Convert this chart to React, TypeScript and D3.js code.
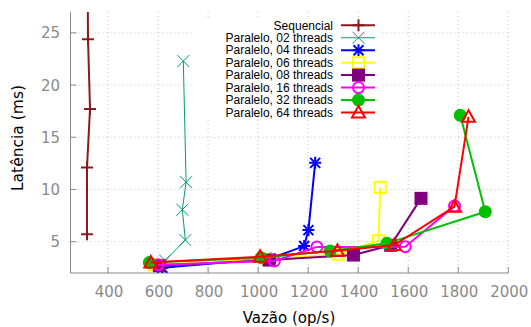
import React from "react";
import * as d3 from "d3";

const seriesNames = [
  "Sequencial",
  "Paralelo, 02 threads",
  "Paralelo, 04 threads",
  "Paralelo, 06 threads",
  "Paralelo, 08 threads",
  "Paralelo, 16 threads",
  "Paralelo, 32 threads",
  "Paralelo, 64 threads",
];

const seqX = [316, 316, 328, 320, 318];
const seqY = [5.7, 12.1, 17.7, 24.4, 31];
const t02X = [628, 709, 697, 712, 701];
const t02Y = [3.2, 5.16, 8.06, 10.7, 22.3];
const t04X = [617, 1050, 1184, 1201, 1228];
const t04Y = [2.5, 3.4, 4.58, 6.11, 12.55];
const t06X = [585, 1040, 1320, 1481, 1488];
const t06Y = [2.8, 3.3, 3.8, 5.09, 10.2];
const t08X = [605, 1044, 1381, 1530, 1651];
const t08Y = [2.7, 3.24, 3.72, 4.65, 9.15];
const t16X = [600, 1065, 1235, 1588, 1785];
const t16Y = [2.8, 3.15, 4.5, 4.52, 8.41];
const t32X = [565, 1012, 1288, 1515, 1908, 1808];
const t32Y = [3.0, 3.46, 4.1, 4.84, 7.87, 17.1];
const t64X = [571, 1008, 1317, 1544, 1785, 1841];
const t64Y = [3.0, 3.56, 4.14, 4.68, 8.35, 16.96];

const xTicks = [400, 600, 800, 1000, 1200, 1400, 1600, 1800, 2000];
const yTicks = [5, 10, 15, 20, 25];

const styles = [
  { color: "#8b1a1a", width: 2, marker: "plus" },
  { color: "#009e73", width: 1, marker: "cross" },
  { color: "#0000ff", width: 2, marker: "star" },
  { color: "#ffff00", width: 2, marker: "square" },
  { color: "#800080", width: 2, marker: "fsquare" },
  { color: "#ff00ff", width: 2, marker: "circle" },
  { color: "#00c000", width: 2, marker: "fcircle" },
  { color: "#ff0000", width: 2, marker: "triangle" },
];

const allX = [seqX, t02X, t04X, t06X, t08X, t16X, t32X, t64X];
const allY = [seqY, t02Y, t04Y, t06Y, t08Y, t16Y, t32Y, t64Y];

function Marker({ type, x, y, color }: { type: string; x: number; y: number; color: string }) {
  const s = 6;
  switch (type) {
    case "plus":
      return (
        <g stroke={color} strokeWidth={2}>
          <line x1={x - s} x2={x + s} y1={y} y2={y} />
          <line x1={x} x2={x} y1={y - s} y2={y + s} />
        </g>
      );
    case "cross":
      return (
        <g stroke={color} strokeWidth={1}>
          <line x1={x - s} x2={x + s} y1={y - s} y2={y + s} />
          <line x1={x - s} x2={x + s} y1={y + s} y2={y - s} />
        </g>
      );
    case "star":
      return (
        <g stroke={color} strokeWidth={2}>
          <line x1={x - s} x2={x + s} y1={y} y2={y} />
          <line x1={x} x2={x} y1={y - s} y2={y + s} />
          <line x1={x - 5} x2={x + 5} y1={y - 5} y2={y + 5} />
          <line x1={x - 5} x2={x + 5} y1={y + 5} y2={y - 5} />
        </g>
      );
    case "square":
      return <rect x={x - 5.5} y={y - 5.5} width={11} height={11} fill="none" stroke={color} strokeWidth={2} />;
    case "fsquare":
      return <rect x={x - 6.5} y={y - 6.5} width={13} height={13} fill={color} />;
    case "circle":
      return <circle cx={x} cy={y} r={5.5} fill="none" stroke={color} strokeWidth={2} />;
    case "fcircle":
      return <circle cx={x} cy={y} r={6.5} fill={color} />;
    case "triangle":
      return (
        <path
          d={`M${x},${y - 6.5}L${x + 6.5},${y + 5}L${x - 6.5},${y + 5}Z`}
          fill="none"
          stroke={color}
          strokeWidth={2}
        />
      );
  }
  return null;
}

export default function App() {
  const W = 531;
  const H = 327;
  const left = 70.5;
  const right = 508.3;
  const top = 12;
  const bottom = 273;
  const x = d3.scaleLinear().domain([250, 2000]).range([left, right]);
  const y = d3.scaleLinear().domain([2, 27]).range([bottom, top]);
  const line = d3.line<[number, number]>().x((d) => x(d[0])).y((d) => y(d[1]));
  const axisColor = "#8a8a8a";
  const tickFont = "'DejaVu Sans', sans-serif";

  const legend = { x0: 194, x1: 381, y0: 18, y1: 120 };
  const legTextX = 333;
  const legLineX1 = 341;
  const legLineX2 = 375;
  const legRow0 = 25.3;
  const legStep = 12.45;

  return (
    <svg
      width={W}
      height={H}
      style={{ position: "absolute", left: 0, top: 0, background: "#fff" }}
    >
      <defs>
        <clipPath id="plotclip">
          <rect x={left} y={top} width={right - left} height={bottom - top} />
        </clipPath>
      </defs>
      {/* grid */}
      <g stroke="#c4c4c4" strokeWidth={1} strokeDasharray="1 3">
        {xTicks.map((t) => (
          <line key={"gx" + t} x1={x(t)} x2={x(t)} y1={top} y2={bottom} />
        ))}
        {yTicks.map((t) => (
          <line key={"gy" + t} x1={left} x2={right} y1={y(t)} y2={y(t)} />
        ))}
      </g>
      {/* legend background */}
      <rect x={legend.x0} y={legend.y0} width={legend.x1 - legend.x0} height={legend.y1 - legend.y0} fill="#fff" />
      {/* axes */}
      <g stroke={axisColor} strokeWidth={1}>
        <line x1={left} x2={left} y1={top} y2={bottom} />
        <line x1={left} x2={right} y1={bottom} y2={bottom} />
        {xTicks.map((t) => (
          <line key={"tx" + t} x1={x(t)} x2={x(t)} y1={bottom} y2={bottom - 6} />
        ))}
        {yTicks.map((t) => (
          <line key={"ty" + t} x1={left} x2={left + 6} y1={y(t)} y2={y(t)} />
        ))}
      </g>
      <g fill={axisColor} fontFamily={tickFont} fontSize={15}>
        {xTicks.map((t) => (
          <text key={"lx" + t} x={x(t) + 1} y={297} textAnchor="middle">
            {t}
          </text>
        ))}
        {yTicks.map((t) => (
          <text key={"ly" + t} x={60} y={y(t) + 5.5} textAnchor="end">
            {t}
          </text>
        ))}
      </g>
      <text x={289} y={323} textAnchor="middle" fontFamily={tickFont} fontSize={15} fill="#000">
        Vazão (op/s)
      </text>
      <text
        transform={`translate(22.5,138) rotate(-90)`}
        textAnchor="middle"
        fontFamily={tickFont}
        fontSize={15.5}
        fill="#000"
      >
        Latência (ms)
      </text>
      {/* data */}
      <g clipPath="url(#plotclip)">
        {styles.map((st, i) => {
          const pts: [number, number][] = allX[i].map((v, j) => [v, allY[i][j]]);
          return (
            <g key={"s" + i}>
              <path d={line(pts) || ""} fill="none" stroke={st.color} strokeWidth={st.width} />
              {pts.map((p, j) => (
                <Marker key={j} type={st.marker} x={x(p[0])} y={y(p[1])} color={st.color} />
              ))}
            </g>
          );
        })}
      </g>
      {/* legend */}
      <g fontFamily="'Liberation Sans', Arial, sans-serif" fontSize={12}>
        {seriesNames.map((n, i) => {
          const cy = legRow0 + i * legStep;
          const st = styles[i];
          return (
            <g key={"lg" + i}>
              <text x={legTextX} y={cy + 4.2} textAnchor="end" fill="#000">
                {n}
              </text>
              <line x1={legLineX1} x2={legLineX2} y1={cy} y2={cy} stroke={st.color} strokeWidth={st.width === 1 ? 1 : 2} />
              <Marker type={st.marker} x={(legLineX1 + legLineX2) / 2 + 0.5} y={cy} color={st.color} />
            </g>
          );
        })}
      </g>
    </svg>
  );
}
